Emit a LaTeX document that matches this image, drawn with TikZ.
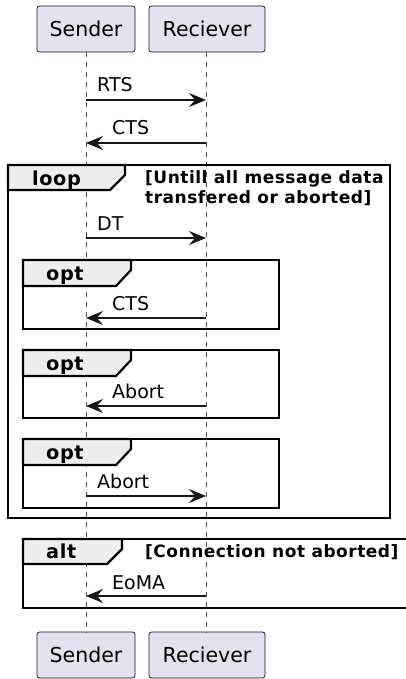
\documentclass[tikz,border=0pt]{standalone}
\usepackage{fontspec}
\setmainfont{DejaVu Sans}
\newfontfamily\trackedbold[LetterSpace=3]{DejaVu Sans Bold}
\usetikzlibrary{arrows.meta}
\definecolor{partfill}{HTML}{E2E2F0}
\definecolor{ink}{HTML}{181818}
\definecolor{tabfill}{HTML}{EEEEEE}
\tikzset{
 part/.style={draw=ink, fill=partfill, rounded corners=2.5pt, line width=0.75pt, minimum height=46pt, inner sep=0pt, font=\fontsize{20.5}{24}\selectfont},
 life/.style={draw=ink!75, line width=0.9pt, dash pattern=on 5pt off 5pt},
 msg/.style={draw=ink, line width=1.5pt, -{Stealth[length=17pt,width=14pt,inset=6pt]}},
 msgtxt/.style={anchor=base west, inner sep=0pt, font=\fontsize{19}{22}\selectfont},
 framebox/.style={draw=black, line width=2.2pt},
 tabbox/.style={draw=black, line width=2.2pt, fill=tabfill, line join=miter},
 grplabel/.style={anchor=base west, inner sep=0pt, font=\trackedbold\fontsize{19.3}{22}\selectfont},
 cond/.style={inner sep=0pt, font=\trackedbold\fontsize{17}{20}\selectfont, align=left},
}
\begin{document}
\begin{tikzpicture}[x=1pt,y=-1pt]
\clip (0,0) rectangle (406,679);
\fill[white] (0,0) rectangle (406,679);
% participants
\node[part, minimum width=98pt] (s1) at (86,29) {Sender};
\node[part, minimum width=116pt] (r1) at (207,29) {Reciever};
\node[part, minimum width=98pt] (s2) at (86,655) {Sender};
\node[part, minimum width=116pt] (r2) at (207,655) {Reciever};
% lifelines
\coordinate (sTop) at (86,52);
\coordinate (sBot) at (86,633);
\coordinate (rTop) at (206,52);
\coordinate (rBot) at (206,633);
\draw[life] (sTop) -- (sBot);
\draw[life] (rTop) -- (rBot);
% frames
\draw[framebox] (8,165) rectangle (390,518);
\draw[tabbox] (8,165) -- (125,165) -- (125,175) -- (110,190) -- (8,190) -- cycle;
\node[grplabel] (loopl) at (32,185) {loop};
\node[cond, anchor=north west] (loopc) at (145,170.5) {[Untill all message data\\transfered or aborted]};

\draw[framebox] (23,260) rectangle (279,329);
\draw[tabbox] (23,260) -- (131,260) -- (131,270) -- (116,286) -- (23,286) -- cycle;
\node[grplabel] (opt1) at (46,280) {opt};

\draw[framebox] (23,350) rectangle (279,418);
\draw[tabbox] (23,350) -- (131,350) -- (131,360) -- (116,376) -- (23,376) -- cycle;
\node[grplabel] (opt2) at (46,370) {opt};

\draw[framebox] (23,439) rectangle (279,508);
\draw[tabbox] (23,439) -- (131,439) -- (131,449) -- (116,465) -- (23,465) -- cycle;
\node[grplabel] (opt3) at (46,459) {opt};

\draw[framebox] (23,539) rectangle (430,608);
\draw[tabbox] (23,539) -- (122,539) -- (122,549) -- (107,564) -- (23,564) -- cycle;
\node[grplabel] (altl) at (46,558) {alt};
\node[cond, anchor=base west] (altc) at (145,557) {[Connection not aborted]};

% messages
\coordinate (m1s) at (86,100);  \coordinate (m1r) at (206,100);
\coordinate (m2s) at (86,143);  \coordinate (m2r) at (206,143);
\coordinate (m3s) at (86,238);  \coordinate (m3r) at (206,238);
\coordinate (m4s) at (86,318);  \coordinate (m4r) at (206,318);
\coordinate (m5s) at (86,406);  \coordinate (m5r) at (206,406);
\coordinate (m6s) at (86,496);  \coordinate (m6r) at (206,496);
\coordinate (m7s) at (86,596);  \coordinate (m7r) at (206,596);
\draw[msg] (m1s) -- (m1r);
\node[msgtxt] (t1) at (97,92) {RTS};
\draw[msg] (m2r) -- (m2s);
\node[msgtxt] (t2) at (112,135) {CTS};
\draw[msg] (m3s) -- (m3r);
\node[msgtxt] (t3) at (97,230) {DT};
\draw[msg] (m4r) -- (m4s);
\node[msgtxt] (t4) at (112,310) {CTS};
\draw[msg] (m5r) -- (m5s);
\node[msgtxt] (t5) at (112,398) {Abort};
\draw[msg] (m6s) -- (m6r);
\node[msgtxt] (t6) at (97,488) {Abort};
\draw[msg] (m7r) -- (m7s);
\node[msgtxt] (t7) at (112,589) {EoMA};
\end{tikzpicture}
\end{document}
